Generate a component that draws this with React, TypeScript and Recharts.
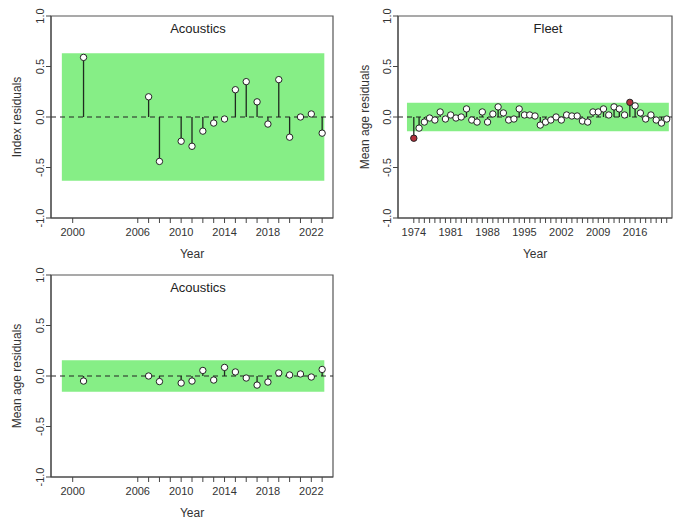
import { ComposedChart, XAxis, YAxis, ReferenceArea, ReferenceLine, Line, Scatter } from 'recharts'

const FONT = '"Liberation Sans", Arial, sans-serif'

// acoustic survey years
const acousticYears = [2001, 2007, 2008, 2010, 2011, 2012, 2013, 2014, 2015, 2016, 2017, 2018, 2019, 2020, 2021, 2022, 2023]
const acousticIndexResid = [0.59, 0.2, -0.44, -0.24, -0.29, -0.14, -0.06, -0.02, 0.27, 0.35, 0.15, -0.07, 0.37, -0.2, 0.0, 0.03, -0.16]
const acousticAgeResid = [-0.05, 0.0, -0.055, -0.07, -0.05, 0.055, -0.04, 0.085, 0.04, -0.02, -0.09, -0.06, 0.03, 0.01, 0.02, -0.01, 0.065]

const fleetYears = [
  1974, 1975, 1976, 1977, 1978, 1979, 1980, 1981, 1982, 1983, 1984, 1985, 1986, 1987, 1988, 1989, 1990,
  1991, 1992, 1993, 1994, 1995, 1996, 1997, 1998, 1999, 2000, 2001, 2002, 2003, 2004, 2005, 2006, 2007,
  2008, 2009, 2010, 2011, 2012, 2013, 2014, 2015, 2016, 2017, 2018, 2019, 2020, 2021, 2022,
]
const fleetAgeResid = [
  -0.21, -0.11, -0.05, -0.01, -0.03, 0.05, -0.02, 0.02, -0.01, 0.0, 0.08, -0.03, -0.05, 0.05, -0.05, 0.03, 0.1,
  0.04, -0.03, -0.02, 0.08, 0.02, 0.02, 0.01, -0.08, -0.05, -0.03, 0.0, -0.03, 0.02, 0.01, 0.01, -0.04, -0.05,
  0.05, 0.05, 0.08, 0.02, 0.1, 0.08, 0.02, 0.145, 0.11, 0.04, -0.02, 0.02, -0.03, -0.06, -0.02,
]

const acousticTicks = [2000, 2006, 2007, 2008, 2009, 2010, 2011, 2012, 2013, 2014, 2015, 2016, 2017, 2018, 2019, 2020, 2021, 2022, 2023]
const acousticTickLabels = [2000, 2006, 2010, 2014, 2018, 2022]
const fleetTicks = fleetYears
const fleetTickLabels = [1974, 1981, 1988, 1995, 2002, 2009, 2016]
const yTicks = [-1, -0.5, 0, 0.5, 1]

function stems(xs: number[], ys: number[]) {
  const out: { x: number; s: number | null }[] = []
  xs.forEach((x, i) => {
    out.push({ x, s: 0 }, { x, s: ys[i] }, { x, s: null })
  })
  return out
}

function YTick({ x, y, payload }: any) {
  const cx = x - 4
  return (
    <text x={cx} y={y} transform={`rotate(-90 ${cx} ${y})`} textAnchor="middle" dominantBaseline="central" fontSize={11} fill="#333" fontFamily={FONT}>
      {Number(payload.value).toFixed(1)}
    </text>
  )
}

function makeXTick(labels: number[]) {
  return ({ x, y, payload }: any) =>
    labels.includes(payload.value) ? (
      <text x={x} y={y} dy="0.71em" textAnchor="middle" fontSize={11} fill="#333" fontFamily={FONT}>
        {payload.value}
      </text>
    ) : (
      <g />
    )
}

interface PanelProps {
  left: number
  top: number
  width: number
  yAxisWidth: number
  yTitleX: number
  xs: number[]
  ys: number[]
  band: number
  bandX: [number, number]
  domainX: [number, number]
  ticks: number[]
  tickLabels: number[]
  yTitle: string
  title: string
  titleX: number
}

function Panel(p: PanelProps) {
  const pts = p.xs.map((x, i) => ({ x, y: p.ys[i], out: Math.abs(p.ys[i]) > p.band }))
  const XTick = makeXTick(p.tickLabels)
  return (
    <div style={{ position: 'absolute', left: p.left, top: p.top }}>
      <ComposedChart width={p.width} height={260} margin={{ top: 16, right: p.width === 340 ? 7 : 1, bottom: 0, left: 0 }}>
        <XAxis
          dataKey="x"
          type="number"
          domain={p.domainX}
          ticks={p.ticks}
          interval={0}
          allowDataOverflow
          tickSize={5}
          tickMargin={5}
          stroke="#444"
          tick={<XTick />}
          height={42}
          label={{ value: 'Year', position: 'insideBottom', offset: 2, fill: '#333', fontSize: 12, fontFamily: FONT }}
        />
        <YAxis
          type="number"
          domain={[-1, 1]}
          ticks={yTicks}
          width={p.yAxisWidth}
          tickSize={5}
          tickMargin={2}
          stroke="#444"
          tick={<YTick />}
          label={{
            value: p.yTitle,
            angle: -90,
            position: 'insideLeft',
            offset: p.yTitleX,
            style: { textAnchor: 'middle' },
            fill: '#333',
            fontSize: 12,
            fontFamily: FONT,
          }}
        />
        <ReferenceArea x1={p.bandX[0]} x2={p.bandX[1]} y1={-p.band} y2={p.band} fill="#86ee86" fillOpacity={1} stroke="none" />
        <ReferenceLine y={0} stroke="#222" strokeWidth={1.2} strokeDasharray="5 4" />
        <Line
          data={stems(p.xs, p.ys)}
          dataKey="s"
          stroke="#1f2a1f"
          strokeWidth={1.3}
          dot={false}
          activeDot={false}
          connectNulls={false}
          isAnimationActive={false}
        />
        <Scatter
          data={pts}
          dataKey="y"
          isAnimationActive={false}
          shape={(s: any) => (
            <circle cx={s.cx} cy={s.cy} r={3.2} fill={s.payload.out ? '#b3303c' : '#ffffff'} stroke="#222" strokeWidth={1} />
          )}
        />
        <ReferenceArea x1={p.domainX[0]} x2={p.domainX[1]} y1={-1} y2={1} fill="none" fillOpacity={0} stroke="#555" strokeWidth={1.2} />
      </ComposedChart>
      <div
        style={{
          position: 'absolute',
          left: p.titleX - p.left,
          top: 21,
          transform: 'translateX(-50%)',
          fontFamily: FONT,
          fontSize: 13,
          color: '#222',
          whiteSpace: 'nowrap',
          lineHeight: '15px',
        }}
      >
        {p.title}
      </div>
    </div>
  )
}

export default function App() {
  return (
    <div style={{ position: 'absolute', left: 0, top: 0, width: 673, height: 524, background: '#fff', fontFamily: FONT }}>
      <Panel
        left={0}
        top={0}
        width={340}
        yAxisWidth={51}
        yTitleX={17}
        xs={acousticYears}
        ys={acousticIndexResid}
        band={0.63}
        bandX={[1999, 2023.2]}
        domainX={[1998, 2024]}
        ticks={acousticTicks}
        tickLabels={acousticTickLabels}
        yTitle="Index residuals"
        title="Acoustics"
        titleX={198}
      />
      <Panel
        left={340}
        top={0}
        width={333}
        yAxisWidth={58}
        yTitleX={25}
        xs={fleetYears}
        ys={fleetAgeResid}
        band={0.14}
        bandX={[1972.7, 2022.4]}
        domainX={[1971, 2023]}
        ticks={fleetTicks}
        tickLabels={fleetTickLabels}
        yTitle="Mean age residuals"
        title="Fleet"
        titleX={548}
      />
      <Panel
        left={0}
        top={259}
        width={340}
        yAxisWidth={51}
        yTitleX={17}
        xs={acousticYears}
        ys={acousticAgeResid}
        band={0.155}
        bandX={[1999, 2023.2]}
        domainX={[1998, 2024]}
        ticks={acousticTicks}
        tickLabels={acousticTickLabels}
        yTitle="Mean age residuals"
        title="Acoustics"
        titleX={198}
      />
    </div>
  )
}
